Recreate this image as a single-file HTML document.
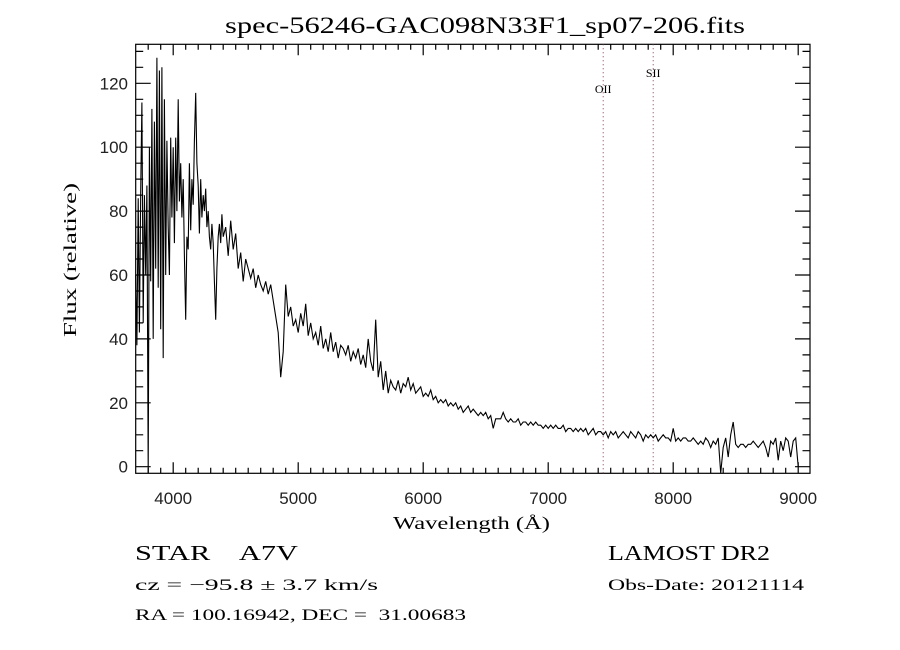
<!DOCTYPE html>
<html><head><meta charset="utf-8"><style>
html,body{margin:0;padding:0;background:#fff;}
svg{display:block;}
.tk{font-family:"Liberation Sans",sans-serif;font-size:17px;fill:#222;}
.sf{font-family:"Liberation Serif",serif;fill:#000;white-space:pre;}
</style></head><body>
<svg id="chart" width="900" height="650" viewBox="0 0 900 650" xmlns="http://www.w3.org/2000/svg">
<rect width="900" height="650" fill="#fff"/>
<text class="sf" x="225" y="33" font-size="23" textLength="520" lengthAdjust="spacingAndGlyphs">spec-56246-GAC098N33F1_sp07-206.fits</text>
<g id="axes"></g>
<g id="series"></g>
<text class="sf" x="393" y="529" font-size="18" textLength="157" lengthAdjust="spacingAndGlyphs">Wavelength (Å)</text>
<text class="sf" x="-77" y="0" font-size="18" textLength="154" lengthAdjust="spacingAndGlyphs" transform="translate(76,260) rotate(-90)">Flux (relative)</text>
<text class="sf" x="135" y="560" font-size="21" textLength="163" lengthAdjust="spacingAndGlyphs">STAR    A7V</text>
<text class="sf" x="135" y="590" font-size="16" textLength="243" lengthAdjust="spacingAndGlyphs">cz = −95.8 ± 3.7 km/s</text>
<text class="sf" x="135" y="620" font-size="16" textLength="331" lengthAdjust="spacingAndGlyphs">RA = 100.16942, DEC =  31.00683</text>
<text class="sf" x="608" y="560" font-size="21" textLength="162" lengthAdjust="spacingAndGlyphs">LAMOST DR2</text>
<text class="sf" x="608" y="590" font-size="16" textLength="196" lengthAdjust="spacingAndGlyphs">Obs-Date: 20121114</text>
</svg>
<script>
const denseWave = [];
for (let w = 3700; w <= 4400; w += 10) denseWave.push(w);
const denseFlux = [60,38,84,42,86,114,45,85,60,88,-2,100,58,112,40,108,62,128,56,124,43,125,34,115,60,102,75,60,103,78,100,70,103,80,115,83,95,78,90,66,46,72,68,95,74,90,82,102,117,95,88,73,90,78,85,80,87,75,80,72,68,76,70,58,46,62,72,76,70,79,72];
const sparseWave = [];
for (let w = 4420; w <= 9000; w += 20) sparseWave.push(w);
const sparseFlux = [
75,66,77,68,73,62,67,58,65,62,
59,62,56,60,57,55,58,54,57,52,
47,42,28,36,57,47,50,44,46,42,
48,44,51,41,45,40,42,38,44,37,
40,36,42,36,39,34,38,37,35,38,
33,36,34,37,32,35,31,40,33,30,
46,28,33,24,30,23,27,25,24,27,
23,26,25,28,24,26,23,24,25,22,
23,22,24,21,22,20,21,20,21,19,
20,19,20,18,19,17,18,19,17,18,
17,16,17,16,17,15,16,12,15,15,
15,17,15,14,15,14,14,15,13,14,
14,13,14,13,14,13,13,12,13,12,
13,12,13,12,12,13,11,12,12,11,
12,11,12,11,12,10,11,12,10,11,
11,10,11,9,11,10,11,9,10,11,
10,9,11,10,9,11,10,8,10,9,
10,9,10,8,9,10,9,9,8,12,
8,9,8,9,9,8,8,9,8,7,
8,7,9,8,6,8,7,9,-2,6,
9,3,10,14,7,6,7,7,6,7,
7,8,7,6,7,8,6,3,8,7,
9,2,8,5,9,8,3,8,9,0];
const xTicks = [4000,5000,6000,7000,8000,9000];
const yTicks = [0,20,40,60,80,100,120];
const lineNames = ["OII","SII"];
const lineWaves = [7440,7840];
const lineLabelFlux = [117,122];

const L=135.7,R=810,T=44.3,B=473.3;
const X0=3700, XS=0.125, Y0=466.7, YS=3.195;
const xs = w => L + (w - X0) * XS;
const ys = f => Y0 - f * YS;
const NS="http://www.w3.org/2000/svg";
const axes=document.getElementById('axes'), series=document.getElementById('series');
function mk(tag, attrs, parent){const e=document.createElementNS(NS,tag);for(const k in attrs)e.setAttribute(k,attrs[k]);parent.appendChild(e);return e;}

const frame=mk('rect',{x:L,y:T,width:R-L,height:B-T,fill:'none',stroke:'#000','stroke-width':1.2},axes);



let td='';
for(let w=3800;w<=9000;w+=100){const x=xs(w).toFixed(1);const len=(w%1000===0)?11:5.5;td+=`M${x},${B}v${-len}M${x},${T}v${len}`;}
for(let f=0;f<=130;f+=5){const y=ys(f).toFixed(1);const len=(f%20===0)?15:7.5;td+=`M${L},${y}h${len}M${R},${y}h${-len}`;}
const ticks=mk('path',{d:td,stroke:'#000','stroke-width':1.2,fill:'none'},axes);



xTicks.forEach(w=>{const t=mk('text',{x:xs(w),y:504,'text-anchor':'middle',class:'tk'},axes);t.textContent=w;

});
yTicks.forEach(f=>{const t=mk('text',{x:128,y:ys(f)+6,'text-anchor':'end',class:'tk'},axes);t.textContent=f;

});

lineWaves.forEach((w,i)=>{
const l=mk('line',{x1:xs(w),x2:xs(w),y1:T,y2:B,stroke:'#7a3a4a','stroke-width':1,'stroke-dasharray':'1,3'},series);


const t=mk('text',{x:xs(w),y:ys(lineLabelFlux[i]),'text-anchor':'middle',class:'sf','font-size':12},series);t.textContent=lineNames[i];


});

const wave=denseWave.concat(sparseWave), flux=denseFlux.concat(sparseFlux);
let d='';
wave.forEach((w,i)=>{d+=(i?'L':'M')+xs(w).toFixed(1)+','+Math.min(B,ys(flux[i])).toFixed(1);});
const p=mk('path',{d:d,fill:'none',stroke:'#000','stroke-width':1.1,'stroke-linejoin':'miter'},series);


</script>
</body></html>
